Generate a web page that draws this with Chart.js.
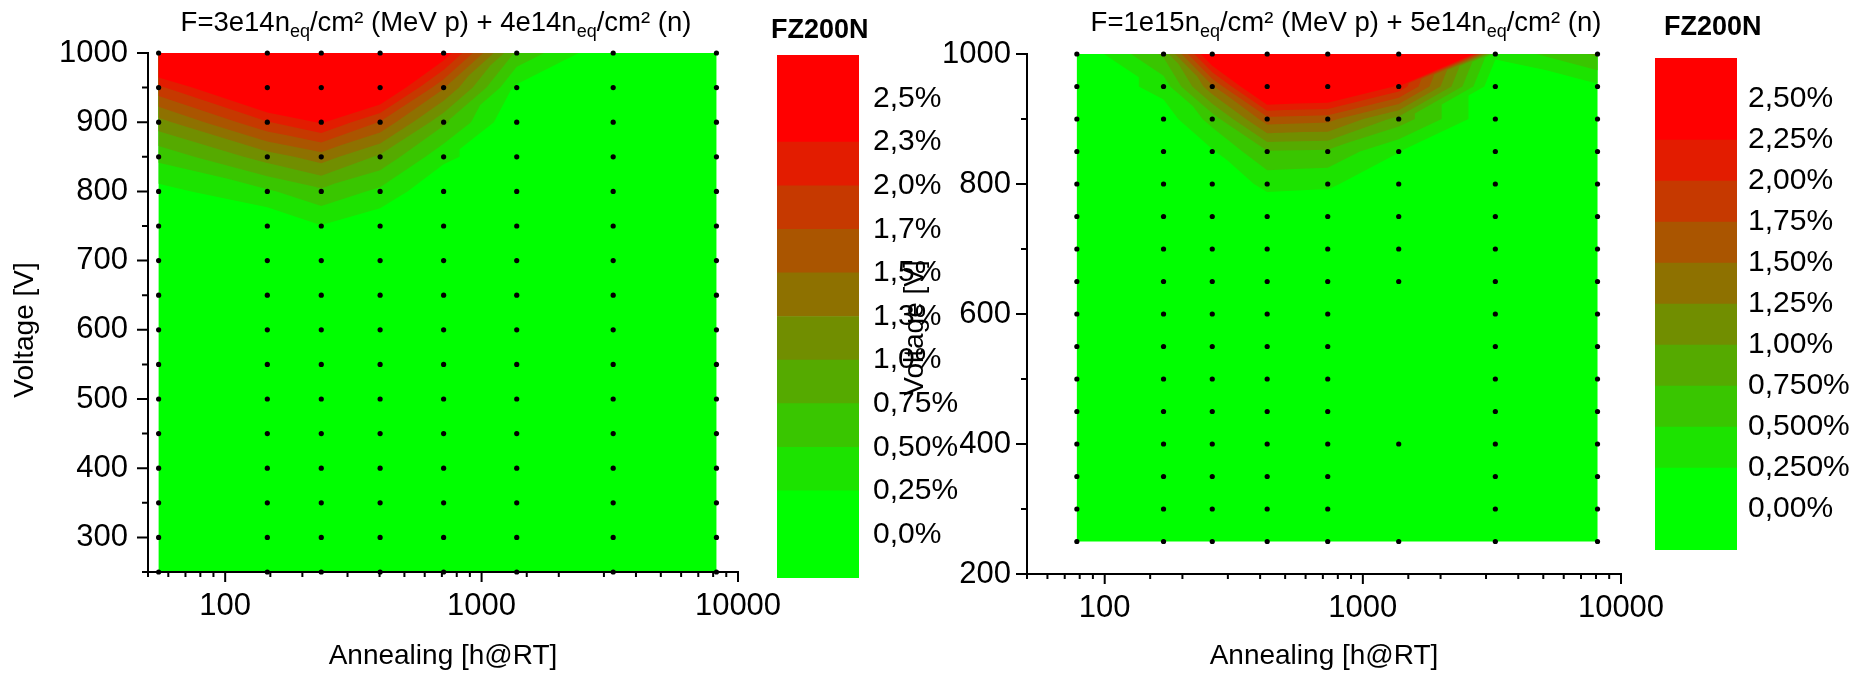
<!DOCTYPE html>
<html>
<head>
<meta charset="utf-8">
<title>FZ200N annealing maps</title>
<script src="https://cdn.jsdelivr.net/npm/chart.js@4.4.1/dist/chart.umd.min.js"></script>
<style>
  html, body { margin: 0; background: #fff; }
  #stage { position: relative; width: 1858px; height: 673px; overflow: hidden; }
  #stage canvas { position: absolute; top: 0; }
</style>
</head>
<body>
<div id="stage">
  <canvas id="mapA" width="930" height="673" style="left:0"></canvas>
  <canvas id="barA" width="200" height="673" style="left:770px"></canvas>
  <canvas id="mapB" width="978" height="673" style="left:880px"></canvas>
  <canvas id="barB" width="218" height="673" style="left:1640px"></canvas>
</div>
<script>
// measurement grid: voltage rows (top to bottom) and annealing times per sample
const voltages = [1000, 950, 900, 850, 800, 750, 700, 650, 600, 550, 500, 450, 400, 350, 300, 250];
const annealA = [55, 146, 237, 402, 711, 1371, 3260, 8240];
const annealB = [78, 169, 261, 426, 731, 1377, 3260, 8110];

// value in % for each voltage row / annealing column (null = not measured)
const zA = [
  [3.0, 3.4, 3.5, 3.2, 2.45, 0.7, 0, 0],
  [1.94, 2.94, 3.0, 2.75, 1.53, 0.2, 0, 0],
  [1.15, 1.98, 2.28, 1.73, 0.8, 0, 0, 0],
  [0.57, 1.12, 1.38, 0.95, 0.32, 0, 0, 0],
  [0.16, 0.46, 0.69, 0.44, 0, 0, 0, 0],
  [0, 0, 0.24, 0.05, 0, 0, 0, 0],
  [0, 0, 0, 0, 0, 0, 0, 0],
  [0, 0, 0, 0, 0, 0, 0, 0],
  [0, 0, 0, 0, 0, 0, 0, 0],
  [0, 0, 0, 0, 0, 0, 0, 0],
  [0, 0, 0, 0, 0, 0, 0, 0],
  [0, 0, 0, 0, 0, 0, 0, 0],
  [0, 0, 0, 0, 0, 0, 0, 0],
  [0, 0, 0, 0, 0, 0, 0, 0],
  [0, 0, 0, 0, 0, 0, 0, 0],
  [0, 0, 0, 0, 0, 0, 0, 0]
];
const zB = [
  [0, 0.8, 2.7, 3.2, 3.2, 9, 0.3, 0.8],
  [0, 0.35, 1.45, 3.0, 2.9, 2.2, 0, 0.2],
  [0, 0.1, 0.6, 1.66, 1.6, 0.9, 0, 0],
  [0, 0, 0.22, 0.73, 0.7, 0.26, 0, 0],
  [0, 0, 0, 0.33, 0.3, 0, 0, 0],
  [0, 0, 0, 0, 0, 0, 0, 0],
  [0, 0, 0, 0, 0, 0, 0, 0],
  [0, 0, 0, 0, 0, 0, 0, 0],
  [0, 0, 0, 0, 0, null, 0, 0],
  [0, 0, 0, 0, 0, null, 0, 0],
  [0, 0, 0, 0, 0, null, 0, 0],
  [0, 0, 0, 0, 0, null, 0, 0],
  [0, 0, 0, 0, 0, 0, 0, 0],
  [0, 0, 0, 0, 0, null, 0, 0],
  [0, 0, 0, 0, 0, null, 0, 0],
  [0, 0, 0, 0, 0, 0, 0, 0]
];

// contour levels and colour scale
const levels = [0.25, 0.5, 0.75, 1.0, 1.25, 1.5, 1.75, 2.0, 2.25];
const scaleEdges = [-0.25, 0.25, 0.5, 0.75, 1.0, 1.25, 1.5, 1.75, 2.0, 2.25, 2.75];
const scaleTicks = [2.5, 2.25, 2.0, 1.75, 1.5, 1.25, 1.0, 0.75, 0.5, 0.25, 0];
const scaleLabelsA = ['2,5%', '2,3%', '2,0%', '1,7%', '1,5%', '1,3%', '1,0%', '0,75%', '0,50%', '0,25%', '0,0%'];
const scaleLabelsB = ['2,50%', '2,25%', '2,00%', '1,75%', '1,50%', '1,25%', '1,00%', '0,750%', '0,500%', '0,250%', '0,00%'];

const xTickLabels = [100, 1000, 10000];
const yTickLabelsA = [300, 400, 500, 600, 700, 800, 900, 1000];
const yTickLabelsB = [200, 400, 600, 800, 1000];

const FONT = "'Liberation Sans', Arial, sans-serif";
Chart.defaults.font.family = FONT;
Chart.defaults.color = '#000';

// green (k=0) to red (k=9)
function bandColor(k) {
  const t = k / 9;
  return `rgb(${Math.round(255 * t)},${Math.round(255 * (1 - t))},0)`;
}

// keep the part of a polygon where z >= level (linear along edges)
function clipAbove(poly, level) {
  const out = [];
  for (let i = 0; i < poly.length; i++) {
    const a = poly[i], b = poly[(i + 1) % poly.length];
    const ina = a.z >= level, inb = b.z >= level;
    if (ina) out.push(a);
    if (ina !== inb) {
      const t = (level - a.z) / (b.z - a.z);
      out.push({ x: a.x + t * (b.x - a.x), y: a.y + t * (b.y - a.y), z: level });
    }
  }
  return out;
}

function contourPlugin(xs, ys, z) {
  return {
    id: 'contourFill',
    beforeDatasetsDraw(chart) {
      const { ctx, scales: { x, y } } = chart;
      const px = xs.map(v => x.getPixelForValue(v));
      const py = ys.map(v => y.getPixelForValue(v));
      const node = (r, c) => z[r][c] == null ? null : { x: px[c], y: py[r], z: z[r][c] };
      const tris = [];
      for (let r = 0; r < ys.length - 1; r++) {
        for (let c = 0; c < xs.length - 1; c++) {
          const a = node(r, c), b = node(r, c + 1), cc = node(r + 1, c + 1), d = node(r + 1, c);
          const have = [a, b, cc, d].filter(Boolean);
          if (have.length === 3) tris.push(have);
          if (have.length < 4) continue;
          // split along the diagonal with the smaller jump
          if (Math.abs(b.z - d.z) < Math.abs(a.z - cc.z)) tris.push([a, b, d], [b, cc, d]);
          else tris.push([a, b, cc], [a, cc, d]);
        }
      }
      ctx.save();
      ctx.fillStyle = bandColor(0);
      const x0 = Math.min(...px), x1 = Math.max(...px);
      const y0 = Math.min(...py), y1 = Math.max(...py);
      ctx.fillRect(x0, y0, x1 - x0, y1 - y0);
      levels.forEach((lv, k) => {
        ctx.beginPath();
        for (const t of tris) {
          const p = clipAbove(t, lv);
          if (p.length < 3) continue;
          ctx.moveTo(p[0].x, p[0].y);
          for (let i = 1; i < p.length; i++) ctx.lineTo(p[i].x, p[i].y);
          ctx.closePath();
        }
        ctx.fillStyle = bandColor(k + 1);
        ctx.fill();
      });
      ctx.restore();
    }
  };
}

// outside tick marks, long where a label is printed
function tickPlugin() {
  return {
    id: 'tickMarks',
    afterDraw(chart) {
      const { ctx, chartArea } = chart;
      ctx.save();
      ctx.strokeStyle = '#000';
      ctx.lineWidth = 2;
      ctx.beginPath();
      for (const t of chart.scales.x.ticks) {
        const p = chart.scales.x.getPixelForValue(t.value);
        const len = t.label === '' ? 5 : 10;
        ctx.moveTo(p, chartArea.bottom);
        ctx.lineTo(p, chartArea.bottom + len);
      }
      for (const t of chart.scales.y.ticks) {
        const p = chart.scales.y.getPixelForValue(t.value);
        const len = t.label === '' ? 6 : 11;
        ctx.moveTo(chartArea.left, p);
        ctx.lineTo(chartArea.left - len, p);
      }
      ctx.stroke();
      ctx.restore();
    }
  };
}

// free text: titles with subscripts, rotated axis titles
function captionPlugin(items) {
  return {
    id: 'captions',
    afterDraw(chart) {
      const ctx = chart.ctx;
      for (const it of items) {
        ctx.save();
        ctx.translate(it.x, it.y);
        if (it.rotate) ctx.rotate(it.rotate);
        ctx.fillStyle = '#000';
        ctx.textBaseline = 'middle';
        ctx.textAlign = 'left';
        const fontFor = p => `${it.weight || 'normal'} ${p.sub ? it.subSize : it.size}px ${FONT}`;
        let total = 0;
        for (const p of it.parts) { ctx.font = fontFor(p); total += ctx.measureText(p.text).width; }
        let cx = it.align === 'left' ? 0 : -total / 2;
        for (const p of it.parts) {
          ctx.font = fontFor(p);
          ctx.fillText(p.text, cx, p.sub ? it.subShift : 0);
          cx += ctx.measureText(p.text).width;
        }
        ctx.restore();
      }
    }
  };
}

function gridPoints(xs, ys, z) {
  const pts = [];
  ys.forEach((v, r) => xs.forEach((a, c) => { if (z[r][c] != null) pts.push({ x: a, y: v }); }));
  return pts;
}

function makeMap(id, xs, z, cfg) {
  return new Chart(document.getElementById(id), {
    type: 'scatter',
    data: {
      datasets: [{
        data: gridPoints(xs, voltages, z),
        pointRadius: 2.6,
        pointBackgroundColor: '#000',
        pointBorderWidth: 0,
        clip: false
      }]
    },
    options: {
      responsive: false,
      animation: false,
      devicePixelRatio: 1,
      events: [],
      layout: { padding: cfg.padding },
      plugins: { legend: { display: false }, tooltip: { enabled: false } },
      scales: {
        x: {
          type: 'logarithmic',
          min: 50,
          max: 10000,
          afterFit: s => { s.height = cfg.xHeight; },
          grid: { display: false, drawTicks: true, tickLength: 10 },
          border: { display: true, color: '#000', width: 2, z: 1 },
          ticks: {
            autoSkip: false,
            maxRotation: 0,
            padding: 6,
            font: { size: 31 },
            callback: v => xTickLabels.some(t => Math.abs(t - v) < 1e-6) ? String(v) : ''
          },
          title: { display: true, text: 'Annealing [h@RT]', font: { size: 28 }, padding: { top: 0, bottom: 0 } }
        },
        y: {
          min: cfg.yMin,
          max: 1000,
          afterFit: s => { s.width = cfg.yWidth; },
          grid: { display: false, drawTicks: true, tickLength: 11 },
          border: { display: true, color: '#000', width: 2, z: 1 },
          ticks: {
            stepSize: cfg.yStep,
            autoSkip: false,
            padding: cfg.yPad,
            font: { size: 31 },
            callback: v => cfg.yLabels.includes(v) ? String(v) : ''
          }
        }
      }
    },
    plugins: [contourPlugin(xs, voltages, z), tickPlugin(), captionPlugin(cfg.captions)]
  });
}

function makeColorbar(id, labels, cfg) {
  return new Chart(document.getElementById(id), {
    type: 'bar',
    data: {
      labels: [''],
      datasets: scaleEdges.slice(0, -1).map((lo, k) => ({
        data: [[lo, scaleEdges[k + 1]]],
        backgroundColor: bandColor(k),
        borderWidth: 0,
        barPercentage: 1,
        categoryPercentage: 1,
        grouped: false
      }))
    },
    options: {
      responsive: false,
      animation: false,
      devicePixelRatio: 1,
      events: [],
      layout: { padding: cfg.padding },
      plugins: { legend: { display: false }, tooltip: { enabled: false } },
      scales: {
        x: { display: false },
        y: {
          position: 'right',
          min: -0.25,
          max: 2.75,
          afterBuildTicks: s => { s.ticks = scaleTicks.map(v => ({ value: v })); },
          afterFit: s => { s.width = cfg.yWidth; },
          grid: { display: false, drawTicks: false },
          border: { display: false },
          ticks: {
            autoSkip: false,
            padding: cfg.labelPad,
            font: { size: 30 },
            callback: (v, i) => labels[i]
          }
        }
      }
    },
    plugins: [captionPlugin(cfg.captions)]
  });
}

const titleA = [
  { text: 'F=3e14n' }, { text: 'eq', sub: true }, { text: '/cm² (MeV p) + 4e14n' },
  { text: 'eq', sub: true }, { text: '/cm² (n)' }
];
const titleB = [
  { text: 'F=1e15n' }, { text: 'eq', sub: true }, { text: '/cm² (MeV p) + 5e14n' },
  { text: 'eq', sub: true }, { text: '/cm² (n)' }
];

makeMap('mapA', annealA, zA, {
  padding: { left: 0, top: 53, right: 192, bottom: 0 },
  xHeight: 101, yWidth: 148, yMin: 250, yStep: 50, yPad: 9, yLabels: yTickLabelsA,
  captions: [
    { parts: titleA, x: 436, y: 23, size: 27.5, subSize: 18, subShift: 9 },
    { parts: [{ text: 'Voltage [V]' }], x: 25, y: 330, size: 28, rotate: -Math.PI / 2 }
  ]
});

makeColorbar('barA', scaleLabelsA, {
  padding: { left: 7, top: 55, right: 0, bottom: 95 },
  yWidth: 111, labelPad: 14,
  captions: [{ parts: [{ text: 'FZ200N' }], x: 1, y: 31, size: 27, weight: 'bold', align: 'left' }]
});

makeMap('mapB', annealB, zB, {
  padding: { left: 0, top: 54, right: 237, bottom: 0 },
  xHeight: 99, yWidth: 147, yMin: 200, yStep: 100, yPad: 5, yLabels: yTickLabelsB,
  captions: [
    { parts: titleB, x: 466, y: 23, size: 27.5, subSize: 18, subShift: 9 },
    { parts: [{ text: 'Voltage [V]' }], x: 35, y: 328, size: 28, rotate: -Math.PI / 2 }
  ]
});

makeColorbar('barB', scaleLabelsB, {
  padding: { left: 15, top: 58, right: 0, bottom: 123 },
  yWidth: 121, labelPad: 11,
  captions: [{ parts: [{ text: 'FZ200N' }], x: 24, y: 28, size: 27, weight: 'bold', align: 'left' }]
});
</script>
</body>
</html>
